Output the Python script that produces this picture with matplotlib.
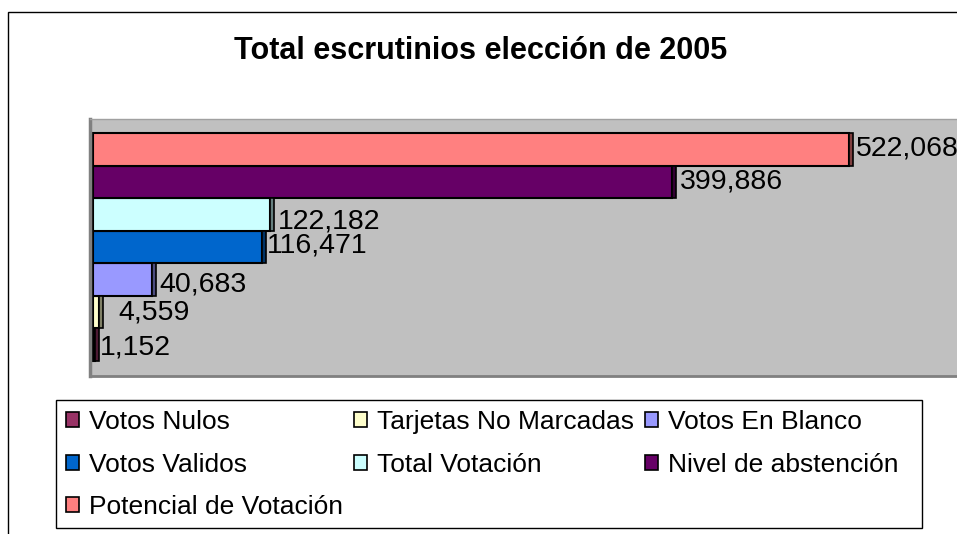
import matplotlib.pyplot as plt
from matplotlib.patches import Rectangle
from matplotlib.colors import to_rgb

# Data (bottom to top, as drawn)
categories = ['Votos Nulos', 'Tarjetas No Marcadas', 'Votos En Blanco', 'Votos Validos',
              'Total Votación', 'Nivel de abstención', 'Potencial de Votación']
values = [1152, 4559, 40683, 116471, 122182, 399886, 522068]
colors = ['#993366', '#FFFFCC', '#9999FF', '#0066CC', '#CCFFFF', '#660066', '#FF8080']

# small label nudges (pixels) to mimic the original placement
label_dx = [1, 15, 4, 1, 4, 4, 3]
label_dy = [-3, 0, -5, 2, -7, 0, 1]

W, H = 957, 534
fig = plt.figure(figsize=(W / 100, H / 100), dpi=100)
plt.rcParams['font.family'] = ['Liberation Sans', 'DejaVu Sans']

# outer chart border (right/bottom edges fall outside the picture)
fig.add_artist(Rectangle((8 / W, -0.2), 1.5, (H - 12) / H + 0.2, transform=fig.transFigure,
                         fill=False, edgecolor='black', linewidth=1))

fig.text(481 / W, 1 - 51 / H, 'Total escrutinios elección de 2005', ha='center', va='center',
         fontsize=22, fontweight='bold')

# plot area: left 90px, top 119px, bottom 376px, runs past the right edge
left, top, bottom, right = 90, 119, 376, 1000
ax = fig.add_axes([left / W, 1 - bottom / H, (right - left) / W, (bottom - top) / H])
ax.set_facecolor('#C0C0C0')
ax.set_xlim(-2000, 626500)
ax.set_ylim(-0.96, 6.93)

px_per_unit = (right - left) / 628500
depth = 4 / px_per_unit

def darker(c, f=0.5):
    r, g, b = to_rgb(c)
    return (r * f, g * f, b * f)

y = list(range(len(values)))
ax.barh(y, values, height=1.0, color=colors, edgecolor='black', linewidth=1.5)
ax.barh(y, [depth] * len(values), left=values, height=1.0,
        color=[darker(c) for c in colors], edgecolor='black', linewidth=1.2)

for i, v in enumerate(values):
    ax.annotate(f'{v:,}', xy=(v + depth, i), xytext=(label_dx[i], label_dy[i]),
                textcoords='offset pixels', ha='left', va='center', fontsize=20.5,
                annotation_clip=False)

ax.set_xticks([])
ax.set_yticks([])
ax.spines['left'].set_color('#808080')
ax.spines['left'].set_linewidth(2.5)
ax.spines['bottom'].set_color('#808080')
ax.spines['bottom'].set_linewidth(2)
ax.spines['top'].set_color('#A0A0A0')
ax.spines['top'].set_linewidth(1)
ax.spines['right'].set_visible(False)

# legend box (drawn separately so it can be wider than its content)
lg_left, lg_top, lg_right, lg_bottom = 56, 400, 922, 528
fig.add_artist(Rectangle((lg_left / W, 1 - lg_bottom / H), (lg_right - lg_left) / W,
                         (lg_bottom - lg_top) / H, transform=fig.transFigure,
                         facecolor='white', edgecolor='black', linewidth=1))

# row-wise order as in the original (matplotlib fills column by column)
order = [0, 3, 6, 1, 4, 2, 5]
handles = [Rectangle((0, 0), 1, 1, facecolor=colors[i], edgecolor='black', linewidth=1.2)
           for i in order]
labels = [categories[i] for i in order]
leg = fig.legend(handles, labels, ncol=3, loc='upper left',
                 bbox_to_anchor=(lg_left / W, 1 - lg_top / H), fontsize=19,
                 frameon=False, handlelength=0.5, handleheight=0.5, handletextpad=0.38,
                 columnspacing=0.4, labelspacing=0.7, borderpad=0.38, borderaxespad=0)

fig.savefig('out.png', dpi=100)
